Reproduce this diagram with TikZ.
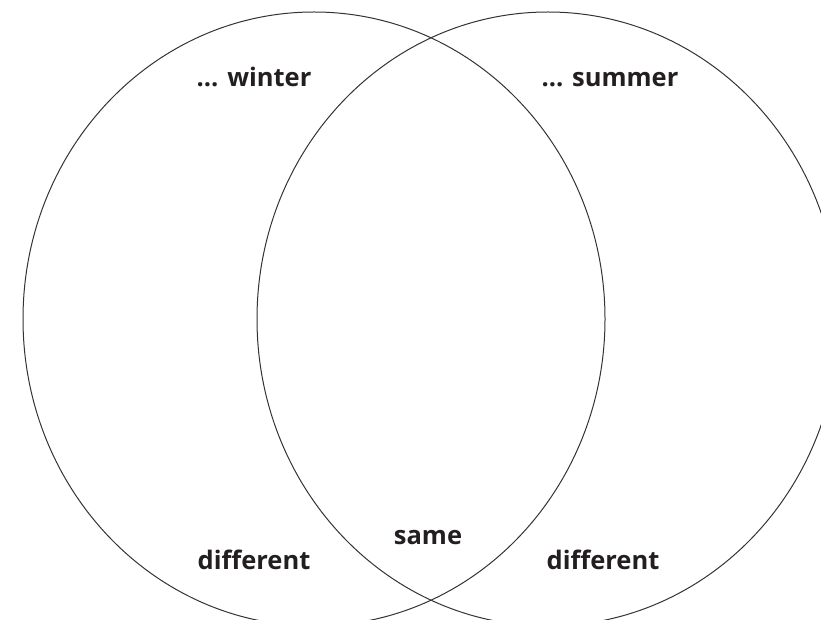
\documentclass[tikz,border=0pt]{standalone}
\usepackage{fontspec}
\setmainfont{Open Sans}
\usepackage{tikz}
\usetikzlibrary{positioning}
\definecolor{VennLine}{HTML}{333333}
\definecolor{VennText}{HTML}{231F20}

\begin{document}
\begin{tikzpicture}[
  x=1pt, y=-1pt,
  ring/.style={draw=VennLine, line width=1pt},
  label/.style={font=\fontsize{25.5}{30}\selectfont\bfseries, text=VennText, inner sep=0pt, anchor=base}
]
\useasboundingbox (0,0) rectangle (821,620);
\clip (0,0) rectangle (821,620);
\draw[ring] (314,319) ellipse [x radius=291pt, y radius=307pt];
\draw[ring] (548,319) ellipse [x radius=291pt, y radius=307pt];
\node[label] (winter) at (254,87) {... winter};
\node[label] (summer) at (610,87) {... summer};
\node[label] (same) at (428,544) {same};
\node[label] (diffleft) at (254,569) {different};
\node[label] (diffright) at (603,569) {different};
\end{tikzpicture}
\end{document}
